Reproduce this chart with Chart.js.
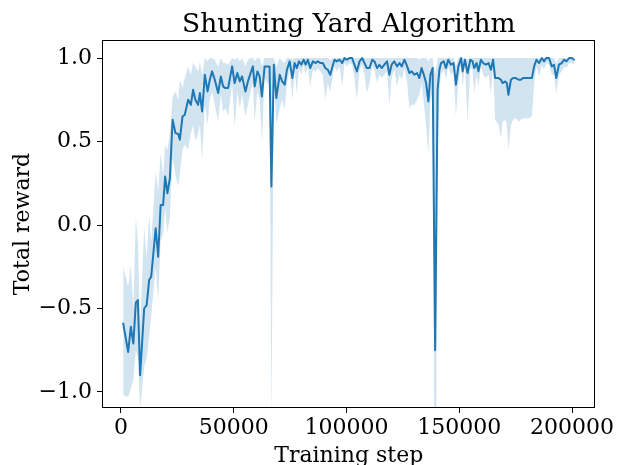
<!DOCTYPE html>
<html>
<head>
<meta charset="utf-8">
<script src="https://cdn.jsdelivr.net/npm/chart.js@4"></script>
<style>
html,body{margin:0;padding:0;background:#fff;}
#wrap{width:617px;height:465px;position:relative;}
</style>
</head>
<body>
<div id="wrap"><canvas id="c" width="617" height="465"></canvas></div>
<script>
const chartTitle = "Shunting Yard Algorithm";
const xLabel = "Training step";
const yLabel = "Total reward";

const steps = [1000,3200,4400,5500,6600,7500,8500,10300,11400,12500,13400,15400,16500,17600,18700,19600,20600,21700,22900,24200,25400,26100,27300,28300,29800,31000,32000,33000,34200,35000,36000,37200,38400,39400,40400,41600,43100,44300,45300,46300,47500,49300,50400,51600,52700,53700,55200,56300,57500,58500,59300,60500,61500,62500,63700,64900,65900,66700,67800,68900,70400,71500,72600,73600,74800,76000,77000,78000,78900,80000,81000,81900,82900,83900,85100,86300,87300,88400,89500,90600,91700,92800,94000,94700,95700,96900,98100,99100,100100,101300,102500,103500,104600,105800,106900,108000,109000,110200,111400,112400,113600,114600,115600,116800,118000,119000,120000,121200,122400,123500,124500,125700,126900,127900,128900,130100,131300,132300,133300,134500,135300,136300,137200,138200,139300,140400,141200,141900,143100,144100,145100,146300,147500,148500,149600,150800,151500,152500,153700,154900,155900,156600,157700,158500,159600,160600,161800,163000,164000,165000,165900,167400,168500,169200,170400,171100,171800,172900,173900,175100,176300,177300,178300,179500,180700,182200,183200,184200,185400,186600,187600,188600,189800,191000,192000,193000,194200,195400,196500,197500,198700,199900,200900];

const meanReward = [-0.59,-0.76,-0.61,-0.71,-0.465,-0.45,-0.90,-0.50,-0.48,-0.33,-0.31,-0.02,-0.19,0.12,0.12,0.29,0.19,0.28,0.63,0.55,0.545,0.51,0.65,0.66,0.75,0.72,0.81,0.75,0.72,0.79,0.68,0.90,0.80,0.87,0.92,0.87,0.79,0.89,0.83,0.82,0.82,0.95,0.85,0.91,0.86,0.89,0.80,0.86,0.91,0.95,0.83,0.92,0.89,0.77,0.95,0.95,0.95,0.23,0.96,0.76,0.90,0.86,0.84,0.93,0.98,0.88,0.97,0.94,0.98,0.96,0.99,0.96,0.99,0.94,0.98,0.97,0.98,0.97,0.97,0.94,0.93,0.90,0.96,0.99,0.98,0.99,0.97,1.0,0.99,1.0,1.0,0.96,0.92,0.98,1.0,0.97,0.94,0.94,0.99,0.98,0.94,0.96,0.94,0.96,0.98,0.90,0.96,0.98,0.95,0.97,0.95,0.99,0.95,0.91,0.92,0.90,0.91,0.88,0.94,0.89,0.85,0.74,0.90,0.94,-0.75,0.81,0.93,0.97,0.98,0.94,0.99,0.96,0.97,0.84,0.95,1.0,0.92,0.99,0.91,0.99,0.98,0.94,0.97,0.92,0.99,0.97,0.96,0.97,0.93,0.99,0.88,0.88,0.87,0.85,0.86,0.85,0.78,0.87,0.88,0.88,0.87,0.87,0.88,0.88,0.88,0.88,0.95,0.99,0.97,1.0,0.98,1.0,1.0,0.95,0.96,0.88,0.96,0.97,0.99,0.98,1.0,1.0,0.99];

const lowerBand = [-1.02,-1.03,-0.98,-0.93,-0.75,-0.80,-1.10,-0.85,-0.80,-0.67,-0.55,-0.25,-0.45,-0.10,-0.05,0.10,-0.05,0.05,0.40,0.30,0.23,0.30,0.45,0.48,0.45,0.55,0.60,0.50,0.55,0.60,0.39,0.72,0.60,0.75,0.80,0.72,0.62,0.78,0.68,0.70,0.65,0.85,0.59,0.80,0.70,0.78,0.65,0.72,0.80,0.85,0.62,0.80,0.75,0.50,0.88,0.85,0.85,-1.20,0.88,0.60,0.70,0.75,0.69,0.85,0.93,0.75,0.92,0.79,0.94,0.90,0.96,0.90,0.95,0.83,0.93,0.92,0.94,0.92,0.90,0.75,0.85,0.80,0.90,0.95,0.92,0.95,0.83,0.97,0.95,0.97,0.96,0.88,0.75,0.93,0.96,0.90,0.79,0.85,0.95,0.93,0.85,0.90,0.88,0.90,0.92,0.72,0.88,0.93,0.83,0.90,0.87,0.94,0.85,0.70,0.72,0.72,0.75,0.78,0.85,0.70,0.60,0.42,0.75,0.80,-2.50,0.45,0.80,0.90,0.93,0.87,0.95,0.90,0.92,0.65,0.85,0.96,0.83,0.95,0.62,0.94,0.93,0.79,0.90,0.83,0.95,0.90,0.88,0.90,0.79,0.94,0.63,0.60,0.52,0.62,0.63,0.60,0.45,0.60,0.63,0.64,0.62,0.63,0.64,0.64,0.64,0.65,0.85,0.95,0.89,0.96,0.93,0.97,0.96,0.90,0.90,0.79,0.90,0.92,0.95,0.94,0.97,0.97,0.96];

const upperBand = [-0.25,-0.37,-0.24,-0.50,0.05,-0.10,-0.60,-0.01,-0.20,0.06,-0.10,0.32,0.20,0.43,0.30,0.48,0.45,0.55,0.77,0.80,0.75,0.87,0.82,0.88,0.95,0.90,0.97,0.95,0.92,0.98,0.90,1.0,0.98,1.0,1.0,0.99,0.95,1.0,0.97,0.97,0.96,1.0,0.99,1.0,0.98,1.0,0.95,0.99,1.0,1.0,0.98,1.0,1.0,0.95,1.0,1.0,1.0,1.0,1.0,0.95,1.0,0.98,0.97,1.0,1.0,0.99,1.0,1.0,1.0,1.0,1.0,1.0,1.0,1.0,1.0,1.0,1.0,1.0,1.0,1.0,1.0,0.99,1.0,1.0,1.0,1.0,1.0,1.0,1.0,1.0,1.0,1.0,1.0,1.0,1.0,1.0,1.0,1.0,1.0,1.0,1.0,1.0,1.0,1.0,1.0,1.0,1.0,1.0,1.0,1.0,1.0,1.0,1.0,1.0,1.0,1.0,1.0,0.99,1.0,1.0,1.0,0.98,1.0,1.0,0.90,1.0,1.0,1.0,1.0,1.0,1.0,1.0,1.0,0.95,1.0,1.0,1.0,1.0,0.99,1.0,1.0,1.0,1.0,1.0,1.0,1.0,1.0,1.0,1.0,1.0,1.0,1.0,1.0,1.0,1.0,1.0,1.0,1.0,1.0,1.0,1.0,1.0,1.0,1.0,1.0,1.0,1.0,1.0,1.0,1.0,1.0,1.0,1.0,1.0,1.0,0.97,1.0,1.0,1.0,1.0,1.0,1.0,1.0];

const xTickValues = [0, 50000, 100000, 150000, 200000];
const xTickLabels = ["0", "50000", "100000", "150000", "200000"];
const yTickValues = [-1.0, -0.5, 0.0, 0.5, 1.0];
const yTickLabels = ["\u22121.0", "\u22120.5", "0.0", "0.5", "1.0"];

const FONT = "'DejaVu Serif', 'Liberation Serif', serif";
const BLUE = '#1f77b4';

const toPts = arr => steps.map((s, i) => ({x: s, y: arr[i]}));

const framePlugin = {
  id: 'frame',
  afterDraw(chart) {
    const {ctx, chartArea: a} = chart;
    ctx.save();
    ctx.strokeStyle = '#000';
    ctx.lineWidth = 1;
    ctx.strokeRect(Math.round(a.left) + 0.5, Math.round(a.top) + 0.5,
                   Math.round(a.right - a.left) - 1, Math.round(a.bottom - a.top) - 1);
    ctx.fillStyle = '#000';
    ctx.textAlign = 'center';
    ctx.textBaseline = 'alphabetic';
    const cx = (a.left + a.right) / 2;
    ctx.font = "26.4px " + FONT;
    ctx.fillText(chartTitle, cx, 32.3);
    ctx.font = "22px " + FONT;
    ctx.fillText(xLabel, cx, 462);
    ctx.translate(29.3, (a.top + a.bottom) / 2);
    ctx.rotate(-Math.PI / 2);
    ctx.fillText(yLabel, 0, 0);
    ctx.restore();
  }
};

new Chart(document.getElementById('c'), {
  type: 'line',
  data: {
    datasets: [
      {
        label: 'lower', data: toPts(lowerBand), borderWidth: 0, pointRadius: 0,
        borderColor: 'rgba(0,0,0,0)', backgroundColor: 'rgba(31,119,180,0.2)',
        fill: false, tension: 0, order: 3
      },
      {
        label: 'upper', data: toPts(upperBand), borderWidth: 0, pointRadius: 0,
        borderColor: 'rgba(0,0,0,0)', backgroundColor: 'rgba(31,119,180,0.2)',
        fill: '-1', tension: 0, order: 2
      },
      {
        label: 'mean', data: toPts(meanReward), borderWidth: 2, pointRadius: 0,
        borderColor: BLUE, backgroundColor: BLUE, fill: false, tension: 0, order: 1,
        borderJoinStyle: 'round', borderCapStyle: 'round'
      }
    ]
  },
  options: {
    responsive: false,
    animation: false,
    events: [],
    layout: {padding: {left: 0, right: 20.5, top: 40, bottom: 0}},
    plugins: {legend: {display: false}, tooltip: {enabled: false}, title: {display: false}},
    scales: {
      x: {
        type: 'linear', min: -8400, max: 210400,
        afterFit(s) { s.height = 57; },
        afterBuildTicks(s) { s.ticks = xTickValues.map(v => ({value: v})); },
        grid: {display: true, drawOnChartArea: false, drawTicks: true, tickLength: 5, color: '#000', lineWidth: 1},
        border: {display: false},
        ticks: {
          color: '#000', padding: 2, maxRotation: 0, autoSkip: false,
          font: {family: FONT, size: 22},
          callback: (v) => { const i = xTickValues.indexOf(v); return i >= 0 ? xTickLabels[i] : ''; }
        }
      },
      y: {
        type: 'linear', min: -1.096, max: 1.108,
        afterFit(s) { s.width = 102; },
        afterBuildTicks(s) { s.ticks = yTickValues.map(v => ({value: v})); },
        grid: {display: true, drawOnChartArea: false, drawTicks: true, tickLength: 5, color: '#000', lineWidth: 1},
        border: {display: false},
        ticks: {
          color: '#000', padding: 5, autoSkip: false,
          font: {family: FONT, size: 22},
          callback: (v) => { const i = yTickValues.findIndex(t => Math.abs(t - v) < 1e-9); return i >= 0 ? yTickLabels[i] : ''; }
        }
      }
    }
  },
  plugins: [framePlugin]
});
</script>
</body>
</html>
